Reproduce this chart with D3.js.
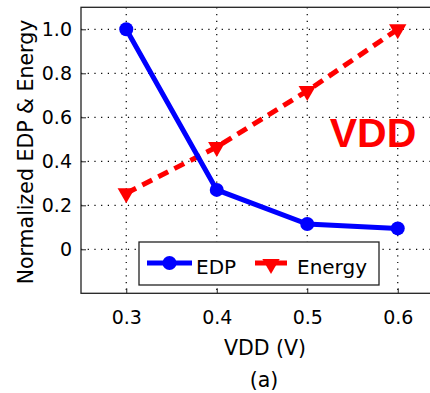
<!DOCTYPE html>
<html>
<head>
<meta charset="utf-8">
<script src="https://cdn.jsdelivr.net/npm/d3@7"></script>
<style>
  body { margin: 0; background: #fff; }
  text { font-family: "DejaVu Sans", sans-serif; }
</style>
</head>
<body>
<svg id="chart" width="430" height="393"></svg>
<script>
const vdd = [0.3, 0.4, 0.5, 0.6];
const edp = [1.0, 0.27, 0.115, 0.095];
const energy = [0.255, 0.465, 0.72, 1.0];
const xTicks = [0.3, 0.4, 0.5, 0.6];
const yTicks = [0, 0.2, 0.4, 0.6, 0.8, 1.0];

const svg = d3.select("#chart");
const plotL = 81, plotR = 443, plotT = 7.3, plotB = 293.3;

const x = d3.scaleLinear().domain([0.25, 0.65]).range([plotL, plotR]);
const y = d3.scaleLinear().domain([-0.2, 1.1]).range([plotB, plotT]);

// dotted grid
const grid = svg.append("g")
  .attr("stroke", "#000")
  .attr("stroke-width", 1.2)
  .attr("stroke-dasharray", "1.2,5.5");
grid.selectAll(".gx").data(xTicks).enter().append("line")
  .attr("x1", d => x(d)).attr("x2", d => x(d))
  .attr("y1", plotT).attr("y2", plotB);
grid.selectAll(".gy").data(yTicks).enter().append("line")
  .attr("x1", plotL).attr("x2", plotR)
  .attr("y1", d => y(d)).attr("y2", d => y(d));

// frame
svg.append("rect")
  .attr("x", plotL).attr("y", plotT)
  .attr("width", plotR - plotL).attr("height", plotB - plotT)
  .attr("fill", "none").attr("stroke", "#222").attr("stroke-width", 1.3);

// axes, ticks pointing inward
const xAxis = svg.append("g")
  .attr("transform", `translate(0,${plotB})`)
  .call(d3.axisBottom(x).tickValues(xTicks).tickSize(-5).tickPadding(17)
    .tickFormat(d3.format(".1f")));
const yAxis = svg.append("g")
  .attr("transform", `translate(${plotL},0)`)
  .call(d3.axisLeft(y).tickValues(yTicks).tickSize(-5).tickPadding(9)
    .tickFormat(d => d === 0 ? "0" : d3.format(".1f")(d)));
[xAxis, yAxis].forEach(a => {
  a.select(".domain").remove();
  a.selectAll("line").attr("stroke", "#222");
  a.selectAll("text").attr("font-size", 19).attr("fill", "#000")
    .style("font-family", "'DejaVu Sans', sans-serif");
});

// series
const line = d3.line().x(d => x(d[0])).y(d => y(d[1]));
const edpPts = vdd.map((v, i) => [v, edp[i]]);
const enPts = vdd.map((v, i) => [v, energy[i]]);

svg.append("path").datum(enPts)
  .attr("d", line).attr("fill", "none")
  .attr("stroke", "#ff0000").attr("stroke-width", 5)
  .attr("stroke-dasharray", "11,7");

svg.append("path").datum(edpPts)
  .attr("d", line).attr("fill", "none")
  .attr("stroke", "#0000ff").attr("stroke-width", 5);

const tri = d3.symbol().type(d3.symbolTriangle).size(130);
svg.selectAll(".en").data(enPts).enter().append("path")
  .attr("d", tri)
  .attr("transform", d => `translate(${x(d[0])},${y(d[1])}) rotate(180)`)
  .attr("fill", "#ff0000");

svg.selectAll(".edp").data(edpPts).enter().append("circle")
  .attr("cx", d => x(d[0])).attr("cy", d => y(d[1]))
  .attr("r", 7).attr("fill", "#0000ff");

// legend
const lg = svg.append("g");
lg.append("rect")
  .attr("x", 139).attr("y", 242).attr("width", 240).attr("height", 43)
  .attr("fill", "#fff").attr("stroke", "#222").attr("stroke-width", 1.3);
lg.append("line").attr("x1", 147).attr("x2", 192).attr("y1", 263).attr("y2", 263)
  .attr("stroke", "#0000ff").attr("stroke-width", 5);
lg.append("circle").attr("cx", 169.5).attr("cy", 263).attr("r", 7).attr("fill", "#0000ff");
lg.append("text").attr("x", 196).attr("y", 274).attr("font-size", 20).attr("fill", "#000").text("EDP");
lg.append("line").attr("x1", 255).attr("x2", 287).attr("y1", 263).attr("y2", 263)
  .attr("stroke", "#ff0000").attr("stroke-width", 5);
lg.append("path").attr("d", tri)
  .attr("transform", "translate(271,264) rotate(180)").attr("fill", "#ff0000");
lg.append("text").attr("x", 297).attr("y", 274).attr("font-size", 20).attr("fill", "#000").text("Energy");

// axis titles and panel label
svg.append("text")
  .attr("transform", "translate(33,152) rotate(-90)")
  .attr("text-anchor", "middle").attr("font-size", 20.5).attr("fill", "#000")
  .text("Normalized EDP & Energy");
svg.append("text")
  .attr("x", 265).attr("y", 355).attr("text-anchor", "middle")
  .attr("font-size", 20.5).attr("fill", "#000").text("VDD (V)");
svg.append("text")
  .attr("x", 264).attr("y", 387).attr("text-anchor", "middle")
  .attr("font-size", 20.5).attr("fill", "#000").text("(a)");
svg.append("text")
  .attr("x", 373).attr("y", 147).attr("text-anchor", "middle")
  .attr("font-size", 41).attr("font-weight", "bold").attr("fill", "#ff0000")
  .style("font-family", "'Liberation Sans', Arial, sans-serif")
  .text("VDD");
</script>
</body>
</html>
